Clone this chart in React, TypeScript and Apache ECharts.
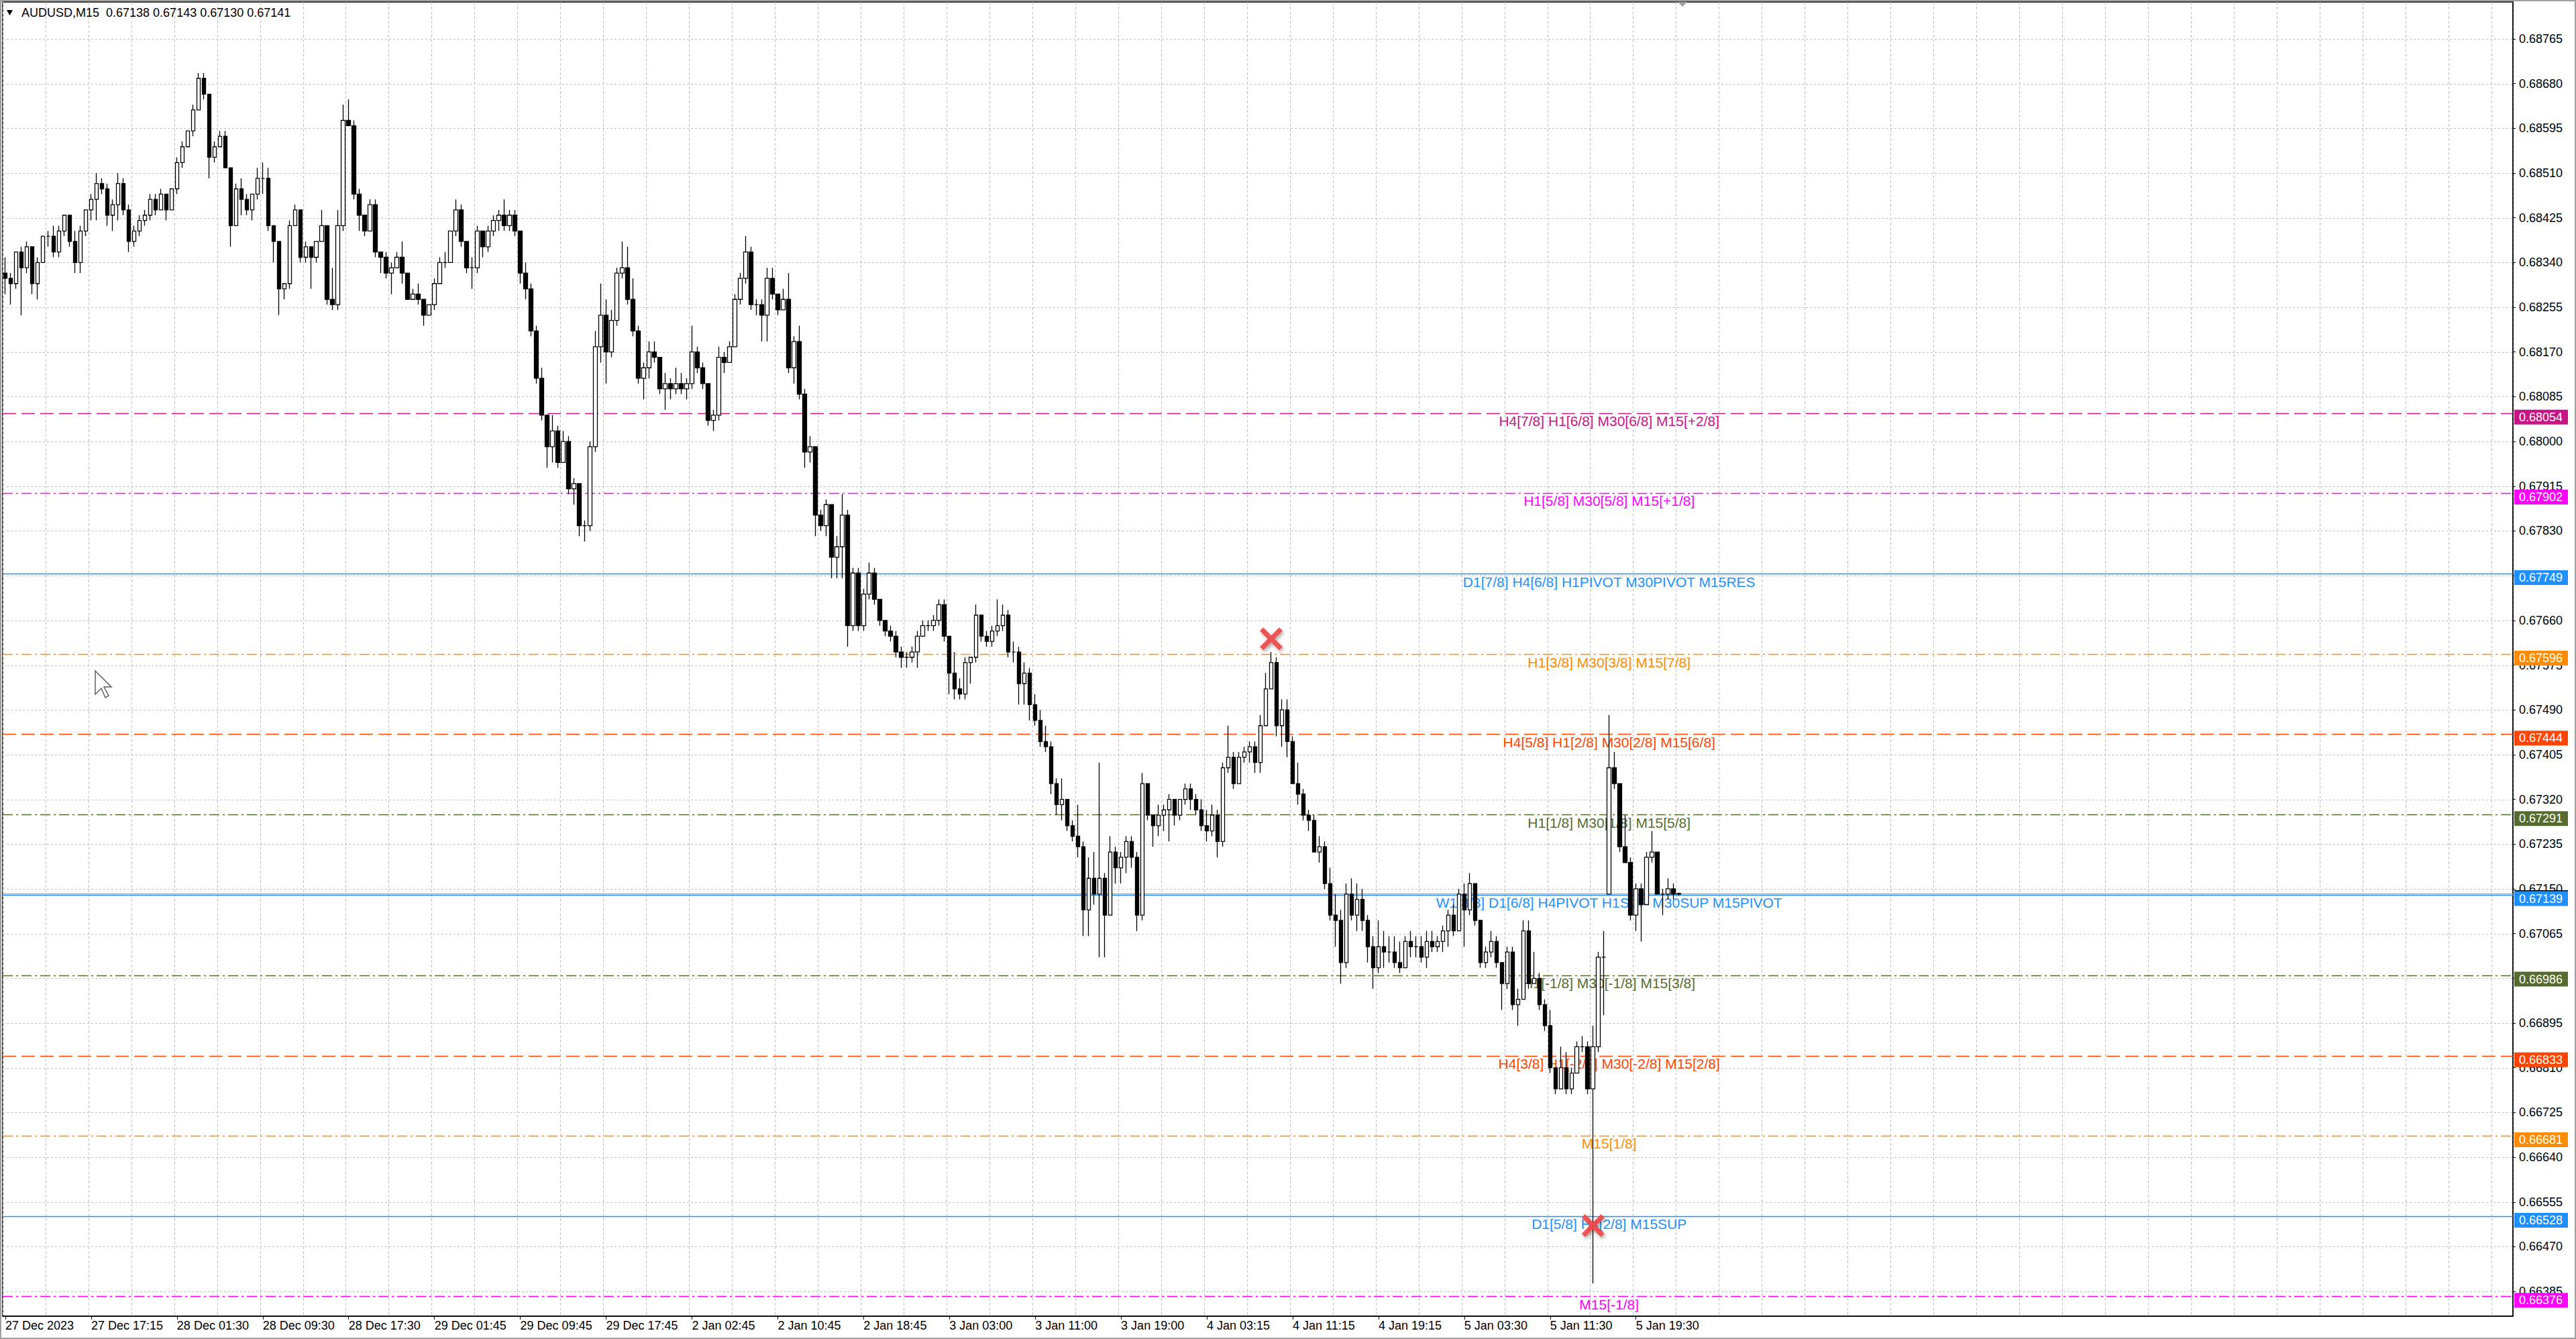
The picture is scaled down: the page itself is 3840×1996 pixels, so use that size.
import { useEffect, useRef } from "react";
import * as echarts from "echarts";

// prices are stored as 0.0001 steps above BASE
const BASE = 0.66;

// M30 bars: [open, close, low, high]
const bars: number[][] = [
  [232,231,228,235],[231,230,226,232],[230,236,229,236],[236,233,224,237],[233,237,232,238],[237,230,228,237],[230,234,227,235],[234,239,234,239],
  [239,239,237,240],[239,236,235,241],[236,240,235,241],[240,243,239,243],[243,238,237,243],[238,234,232,240],[234,240,232,241],[240,244,239,244],
  [244,246,242,247],[246,249,242,251],[249,248,247,250],[248,243,241,249],[243,245,240,246],[245,249,242,251],[249,244,243,250],[244,238,236,245],
  [238,240,237,241],[240,242,239,243],[242,243,241,244],[243,246,242,247],[246,244,243,247],[244,247,244,248],[247,244,242,247],[244,248,244,248],
  [248,253,247,254],[253,256,252,257],[256,259,256,259],[259,263,258,264],[263,269,263,270],[269,266,265,270],[266,254,250,266],[254,256,253,257],
  [256,258,256,259],[258,252,252,259],[252,241,237,252],[241,248,241,249],[248,246,243,250],[246,244,243,247],[244,247,242,247],[247,250,246,252],
  [250,250,247,253],[250,241,240,252],[241,238,234,241],[238,229,224,238],[229,230,227,230],[230,241,229,242],[241,244,241,245],[244,235,234,244],
  [235,237,234,238],[237,235,229,237],[235,238,234,238],[238,241,238,244],[241,227,226,241],[227,226,225,233],[226,241,225,244],[241,261,240,264],
  [261,260,260,265],[260,247,246,261],[247,243,240,248],[243,240,239,243],[240,245,240,246],[245,236,235,246],[236,235,232,236],[235,232,231,236],
  [232,233,228,234],[233,235,233,236],[235,232,230,238],[232,227,227,232],[227,228,227,229],[228,227,226,230],[227,224,222,227],[224,226,224,226],
  [226,230,225,231],[230,234,230,235],[234,234,233,236],[234,240,234,240],[240,244,239,246],[244,238,237,245],[238,233,232,238],[233,233,229,235],
  [233,240,232,241],[240,237,235,240],[237,240,236,241],[240,242,239,243],[242,243,240,244],[243,241,240,246],[241,243,240,244],[243,240,239,244],
  [240,232,230,240],[232,229,227,234],[229,221,220,230],[221,212,211,222],[212,205,204,214],[205,199,195,205],[199,202,196,205],[202,196,195,203],
  [196,200,196,202],[200,191,190,201],[191,192,188,193],[192,184,182,192],[184,184,181,185],[184,199,183,200],[199,218,198,221],[218,224,215,230],
  [224,217,211,227],[217,223,216,225],[223,232,222,233],[232,233,231,238],[233,227,226,237],[227,221,220,231],[221,212,211,222],[212,214,208,215],
  [214,217,212,219],[217,216,215,219],[216,210,209,216],[210,211,206,213],[211,210,208,212],[210,211,209,214],[211,210,209,213],[210,211,208,212],
  [211,217,210,222],[217,214,213,218],[214,211,210,215],[211,204,203,211],[204,205,202,206],[205,216,204,218],[216,215,213,217],[215,218,215,219],
  [218,227,218,228],[227,231,226,232],[231,236,230,239],[236,226,225,237],[226,226,224,227],[226,224,219,227],[224,231,219,233],[231,228,227,233],
  [228,225,224,228],[225,227,225,229],[227,214,213,232],[214,219,211,220],[219,209,208,222],[209,198,195,210],[198,199,196,201],[199,186,182,199],
  [186,184,183,187],[184,188,182,189],[188,178,174,188],[178,180,174,182],[180,186,174,190],[186,165,161,187],[165,175,164,176],[175,165,164,176],
  [165,171,164,172],[171,175,170,177],[175,170,169,176],[170,166,165,170],[166,164,163,166],[164,163,162,165],[163,160,159,164],[160,159,157,161],
  [159,159,157,160],[159,160,158,161],[160,163,157,164],[163,165,163,166],[165,165,164,166],[165,166,164,167],[166,169,165,170],[169,163,162,170],
  [163,156,152,163],[156,153,151,160],[153,152,151,155],[152,158,151,159],[158,159,154,159],[159,167,158,169],[167,163,162,167],[163,162,161,164],
  [162,164,161,165],[164,165,163,170],[165,167,164,169],[167,160,159,168],[160,160,158,162],[160,154,150,161],[154,156,150,158],[156,150,147,157],
  [150,147,146,152],[147,143,142,149],[143,142,141,146],[142,135,133,143],[135,131,129,136],[131,132,128,136],[132,127,126,132],[127,125,124,128],
  [125,123,121,131],[123,111,106,124],[111,117,106,121],[117,114,112,122],[114,117,102,139],[117,110,102,118],[110,122,110,125],[122,119,116,123],
  [119,121,116,122],[121,124,118,125],[124,121,119,125],[121,110,107,122],[110,135,109,137],[135,129,128,135],[129,127,123,129],[127,129,125,131],
  [129,130,126,131],[130,132,124,133],[132,129,127,132],[129,132,128,132],[132,134,131,135],[134,132,130,135],[132,130,129,133],[130,127,126,132],
  [127,126,124,130],[126,129,125,131],[129,124,121,130],[124,138,123,139],[138,140,137,146],[140,135,134,141],[135,140,135,141],[140,141,139,142],
  [141,142,139,143],[142,139,137,143],[139,146,137,148],[146,153,146,156],[153,158,153,160],[158,146,144,159],[146,149,142,151],[149,143,140,151],
  [143,135,135,144],[135,133,131,139],[133,129,128,134],[129,128,126,130],[128,122,122,129],[122,123,120,125],[123,116,115,124],[116,110,109,119],
  [110,109,104,114],[109,101,97,111],[101,114,100,116],[114,110,109,117],[110,113,107,116],[113,109,107,115],[109,104,101,110],[104,100,96,106],
  [100,104,99,109],[104,103,100,107],[103,103,101,106],[103,101,100,106],[101,100,99,105],[100,105,100,106],[105,104,102,107],[104,104,102,106],
  [104,102,101,106],[102,105,100,107],[105,104,103,107],[104,105,103,106],[105,107,103,108],[107,110,104,111],[110,107,106,112],[107,114,107,115],
  [114,111,104,116],[111,116,110,118],[116,109,108,116],[109,101,100,109],[101,103,100,104],[103,105,102,107],[105,101,100,106],[101,97,92,101],
  [97,103,96,104],[103,93,92,104],[93,94,89,96],[94,107,94,109],[107,97,96,109],[97,98,97,103],[98,93,92,99],[93,89,88,94],
  [89,81,80,92],[81,77,76,81],[77,81,77,85],[81,77,76,84],[77,80,76,81],[80,85,80,86],[85,85,84,87],[85,77,76,86],
  [77,85,40,89],[85,102,84,103],[102,102,91,107],[114,138,114,148],[138,135,134,141],[135,123,122,135],[123,120,120,129],[120,110,109,121],
  [110,115,107,116],[115,112,105,116],[112,121,112,122],[121,122,120,126],[122,114,114,122],[114,114,110,115],[114,115,113,117],[115,114,113,116],
  [114,114.1,113.7,114.3],
];

const xLabels = [
  "27 Dec 2023", "27 Dec 17:15", "28 Dec 01:30", "28 Dec 09:30", "28 Dec 17:30",
  "29 Dec 01:45", "29 Dec 09:45", "29 Dec 17:45", "2 Jan 02:45", "2 Jan 10:45",
  "2 Jan 18:45", "3 Jan 03:00", "3 Jan 11:00", "3 Jan 19:00", "4 Jan 03:15",
  "4 Jan 11:15", "4 Jan 19:15", "5 Jan 03:30", "5 Jan 11:30", "5 Jan 19:30",
];

const yTicks = [
  0.66385, 0.6647, 0.66555, 0.6664, 0.66725, 0.6681, 0.66895, 0.6698, 0.67065, 0.6715,
  0.67235, 0.6732, 0.67405, 0.6749, 0.67575, 0.6766, 0.67745, 0.6783, 0.67915, 0.68,
  0.68085, 0.6817, 0.68255, 0.6834, 0.68425, 0.6851, 0.68595, 0.6868, 0.68765,
];

const levelPrices = [
  0.68054, 0.67902, 0.67749, 0.67596, 0.67444, 0.67291,
  0.67139, 0.66986, 0.66833, 0.66681, 0.66528, 0.66376,
];

const levelNames = [
  "H4[7/8] H1[6/8] M30[6/8] M15[+2/8]",
  "H1[5/8] M30[5/8] M15[+1/8]",
  "D1[7/8] H4[6/8] H1PIVOT M30PIVOT M15RES",
  "H1[3/8] M30[3/8] M15[7/8]",
  "H4[5/8] H1[2/8] M30[2/8] M15[6/8]",
  "H1[1/8] M30[1/8] M15[5/8]",
  "W1[3/8] D1[6/8] H4PIVOT H1SUP M30SUP M15PIVOT",
  "H1[-1/8] M30[-1/8] M15[3/8]",
  "H4[3/8] H1[-2/8] M30[-2/8] M15[2/8]",
  "M15[1/8]",
  "D1[5/8] H4[2/8] M15SUP",
  "M15[-1/8]",
];

const bidPrice = 0.67141;
const crossMarks = [[236, 0.67625], [296, 0.6651]];
const quote = "AUDUSD,M15  0.67138 0.67143 0.67130 0.67141";

// look of the level lines
const FONT = "'Liberation Sans', Arial, sans-serif";
const DASH = [20, 8];
const DASH_DOT = [15, 5, 3, 5];
const levelLook = [
  { color: "#C71585", dash: DASH },
  { color: "#FF00FF", dash: DASH_DOT },
  { color: "#1E90FF", dash: null },
  { color: "#FF8C00", dash: DASH_DOT },
  { color: "#FF4500", dash: DASH },
  { color: "#556B2F", dash: DASH_DOT },
  { color: "#1E90FF", dash: null },
  { color: "#556B2F", dash: DASH_DOT },
  { color: "#FF4500", dash: DASH },
  { color: "#FF8C00", dash: DASH_DOT },
  { color: "#1E90FF", dash: null },
  { color: "#FF00FF", dash: DASH_DOT },
];

const SLOTS = 468;
const LABEL_SLOT = 299;
const PLOT_LEFT = 4;
const PLOT_RIGHT = 3746;
const CROSS =
  "path://M3,0L10,7L17,0L20,3L13,10L20,17L17,20L10,13L3,20L0,17L7,10L0,3Z";

const App = () => {
  const chartRef = useRef<HTMLDivElement>(null);

  useEffect(() => {
    if (!chartRef.current) return;

    const chart = echarts.init(chartRef.current, null, { renderer: "svg" });

    const price = (v: number) => BASE + v / 10000;
    const candles = bars.map(([o, c, l, h]) => [price(o), price(c), price(l), price(h)]);
    const slots = Array.from({ length: SLOTS }, (_, i) => String(i));
    const isLabel = (i: number) => i % 16 === 0 && i / 16 < xLabels.length;

    chart.setOption({
      animation: false,
      backgroundColor: "#ffffff",
      grid: {
        left: PLOT_LEFT,
        top: 3,
        width: PLOT_RIGHT - PLOT_LEFT,
        height: 1959,
        show: true,
        borderColor: "#000",
        borderWidth: 1.5,
        backgroundColor: "transparent",
      },
      xAxis: {
        type: "category",
        data: slots,
        boundaryGap: true,
        axisLine: { lineStyle: { color: "#000", width: 1.5 } },
        axisTick: {
          show: true,
          interval: (i: number) => isLabel(i),
          alignWithLabel: true,
          length: 5,
          lineStyle: { color: "#000" },
        },
        axisLabel: {
          interval: (i: number) => isLabel(i),
          formatter: (_v: string, i: number) => xLabels[i / 16] ?? "",
          align: "left",
          margin: 5,
          color: "#000",
          fontSize: 18,
          fontFamily: FONT,
        },
        splitLine: {
          show: true,
          interval: (i: number) => i % 8 === 0,
          lineStyle: { color: "#c0c0c0", type: [4, 3], width: 1 },
        },
      },
      yAxis: {
        type: "value",
        position: "right",
        min: 0.66338,
        max: 0.68835,
        axisLine: { show: true, lineStyle: { color: "#000", width: 1.5 } },
        axisTick: {
          show: true,
          customValues: yTicks,
          length: 4,
          lineStyle: { color: "#000" },
        },
        axisLabel: {
          customValues: yTicks,
          formatter: (v: number) => v.toFixed(5),
          margin: 9,
          color: "#000",
          fontSize: 18,
          fontFamily: FONT,
        },
        splitLine: { show: false },
      },
      series: [
        {
          type: "candlestick",
          data: candles,
          barWidth: 6,
          z: 3,
          itemStyle: {
            color: "#ffffff",
            color0: "#000000",
            borderColor: "#000000",
            borderColor0: "#000000",
            borderColorDoji: "#000000",
            borderWidth: 1.3,
          },
        },
        {
          type: "scatter",
          data: crossMarks,
          symbol: CROSS,
          symbolSize: 34,
          z: 10,
          silent: true,
          itemStyle: {
            color: "#f04848",
            opacity: 0.92,
            shadowBlur: 5,
            shadowColor: "rgba(0,0,0,0.35)",
            shadowOffsetX: 2,
            shadowOffsetY: 3,
          },
        },
      ],
    });

    const yPix = (p: number) => chart.convertToPixel({ yAxisIndex: 0 }, p) as number;
    const labelX = chart.convertToPixel({ xAxisIndex: 0 }, LABEL_SLOT) as number;

    const hLine = (p: number, stroke: string, width: number, dash: number[] | null, z: number) => {
      const y = Math.round(yPix(p)) + 0.5;
      return {
        type: "line",
        z,
        silent: true,
        shape: { x1: PLOT_LEFT, y1: y, x2: PLOT_RIGHT, y2: y },
        style: { stroke, lineWidth: width, lineDash: dash ?? undefined },
      };
    };

    const tag = (p: number, color: string, z: number) => {
      const y = yPix(p);
      return [
        { type: "rect", z, shape: { x: 3748, y: y - 5, width: 80, height: 22 }, style: { fill: color } },
        {
          type: "text",
          z: z + 1,
          x: 3755,
          y: y + 6,
          style: { text: p.toFixed(5), fill: "#ffffff", font: `18px ${FONT}`, verticalAlign: "middle" },
        },
      ];
    };

    chart.setOption({
      graphic: [
        // horizontal grid
        ...yTicks.map((v) => hLine(v, "#c0c0c0", 1, [3, 3], 0)),
        // bid line and levels
        hLine(bidPrice, "#b0b0b0", 1.5, null, 1),
        ...levelPrices.map((p, i) => hLine(p, levelLook[i].color, 1.5, levelLook[i].dash, 1)),
        // symbol caption
        { type: "polygon", z: 20, shape: { points: [[10, 15], [19, 15], [14.5, 23]] }, style: { fill: "#000" } },
        {
          type: "text",
          z: 20,
          x: 32,
          y: 19,
          style: { text: quote, fill: "#000", font: `18px ${FONT}`, verticalAlign: "middle" },
        },
        // level captions
        ...levelPrices.map((p, i) => ({
          type: "text",
          z: 2,
          x: labelX,
          y: yPix(p) + 12,
          style: {
            text: levelNames[i],
            fill: levelLook[i].color,
            font: `21px ${FONT}`,
            align: "center",
            verticalAlign: "middle",
          },
        })),
        // price tags
        ...tag(bidPrice, "#000000", 50),
        ...levelPrices.flatMap((p, i) => tag(p, levelLook[i].color, 52 + i * 2)),
        // chart shift marker
        {
          type: "polygon",
          z: 80,
          shape: { points: [[2501, 3], [2515, 3], [2508, 10]] },
          style: { fill: "#a0a0a0" },
        },
        // mouse pointer
        {
          type: "polygon",
          z: 80,
          shape: { points: [[142, 1000], [142, 1035], [151, 1026], [157, 1040], [162, 1037], [155, 1024], [166, 1024]] },
          style: { fill: "#ffffff", stroke: "#606060", lineWidth: 1.5 },
        },
        // window border
        {
          type: "rect",
          z: 90,
          shape: { x: 1, y: 1, width: 3838, height: 1994 },
          style: { fill: "none", stroke: "#a0a0a0", lineWidth: 2 },
        },
      ],
    });

    return () => {
      chart.dispose();
    };
  }, []);

  return (
    <div
      ref={chartRef}
      style={{ position: "fixed", left: 0, top: 0, width: 3840, height: 1996, background: "#fff" }}
    />
  );
};

export default App;
